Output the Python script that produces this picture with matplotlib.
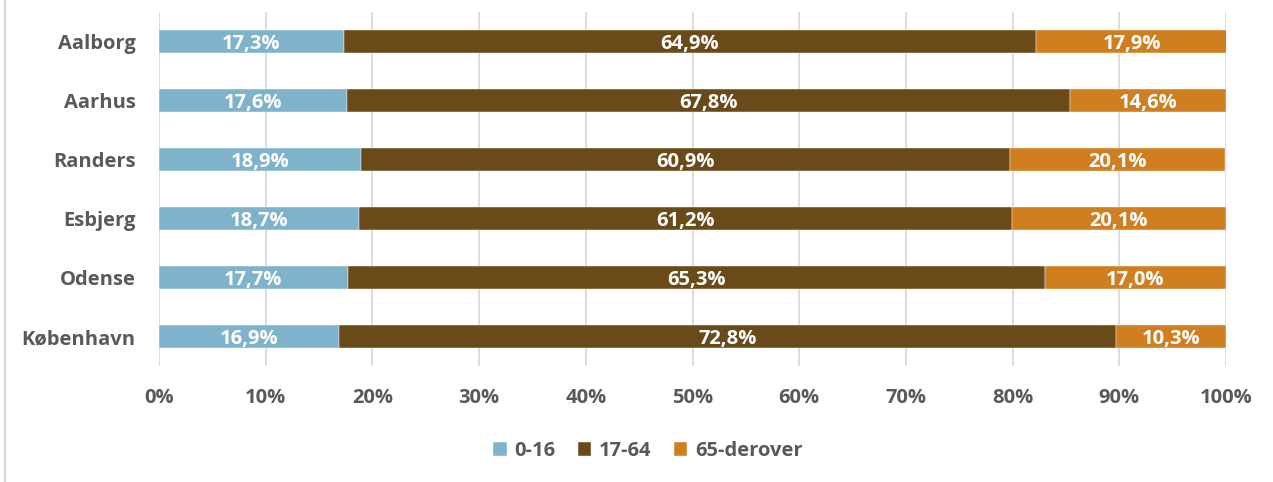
import matplotlib
matplotlib.use("Agg")
import matplotlib.pyplot as plt
from matplotlib.lines import Line2D
import numpy as np

plt.rcParams['font.family'] = ['Open Sans', 'DejaVu Sans']
plt.rcParams['font.weight'] = 'bold'

cities = ["Aalborg", "Aarhus", "Randers", "Esbjerg", "Odense", "København"]
age_0_16 = [17.3, 17.6, 18.9, 18.7, 17.7, 16.9]
age_17_64 = [64.9, 67.8, 60.9, 61.2, 65.3, 72.8]
age_65 = [17.9, 14.6, 20.1, 20.1, 17.0, 10.3]
series_names = ["0-16", "17-64", "65-derover"]
colors = ["#7fb3cc", "#6b4a19", "#cf7f20"]
xticks = [0, 10, 20, 30, 40, 50, 60, 70, 80, 90, 100]

fig = plt.figure(figsize=(12.73, 4.82), dpi=100)
ax = fig.add_axes([159/1273, 1-366/482, (1226-159)/1273, (366-12)/482])

fs = 14.5
y = np.arange(len(cities))
left = np.zeros(len(cities))
tc = "#595959"
for vals, name, col in zip([age_0_16, age_17_64, age_65], series_names, colors):
    v = np.array(vals)
    ax.barh(y, v, left=left, height=0.4, color=col, label=name, zorder=3,
            edgecolor='white', linewidth=0.3)
    for yi, li, vi in zip(y, left, v):
        ax.text(li + vi/2, yi, f"{vi:.1f}%".replace('.', ','), ha='center', va='center_baseline',
                color='white', fontsize=fs, fontweight='bold', zorder=4)
    left = left + v

ax.set_xlim(0, 100)
ax.set_ylim(len(cities) - 0.5, -0.5)
ax.set_yticks(y)
ax.set_yticklabels(cities, fontsize=fs, fontweight='bold', color=tc)
ax.set_xticks(xticks)
ax.set_xticklabels([f"{t}%" for t in xticks], fontsize=fs, fontweight='bold', color=tc)
ax.tick_params(axis='both', length=0)
ax.tick_params(axis='x', pad=16)
ax.tick_params(axis='y', pad=17)
ax.grid(axis='x', color='#d9d9d9', linewidth=1.3, zorder=0)
for s in ax.spines.values():
    s.set_visible(False)

leg = fig.legend(loc='center', bbox_to_anchor=(648/1273, 1-451/482), ncol=3, frameon=False,
                 fontsize=fs, handlelength=0.65, handleheight=0.65, handletextpad=0.4,
                 columnspacing=1.1)
for t in leg.get_texts():
    t.set_color(tc)
    t.set_fontweight('bold')

fig.add_artist(Line2D([5/1273, 5/1273], [0, 1], color='#d9d9d9', linewidth=1.5))

fig.savefig("out.png", dpi=100)
